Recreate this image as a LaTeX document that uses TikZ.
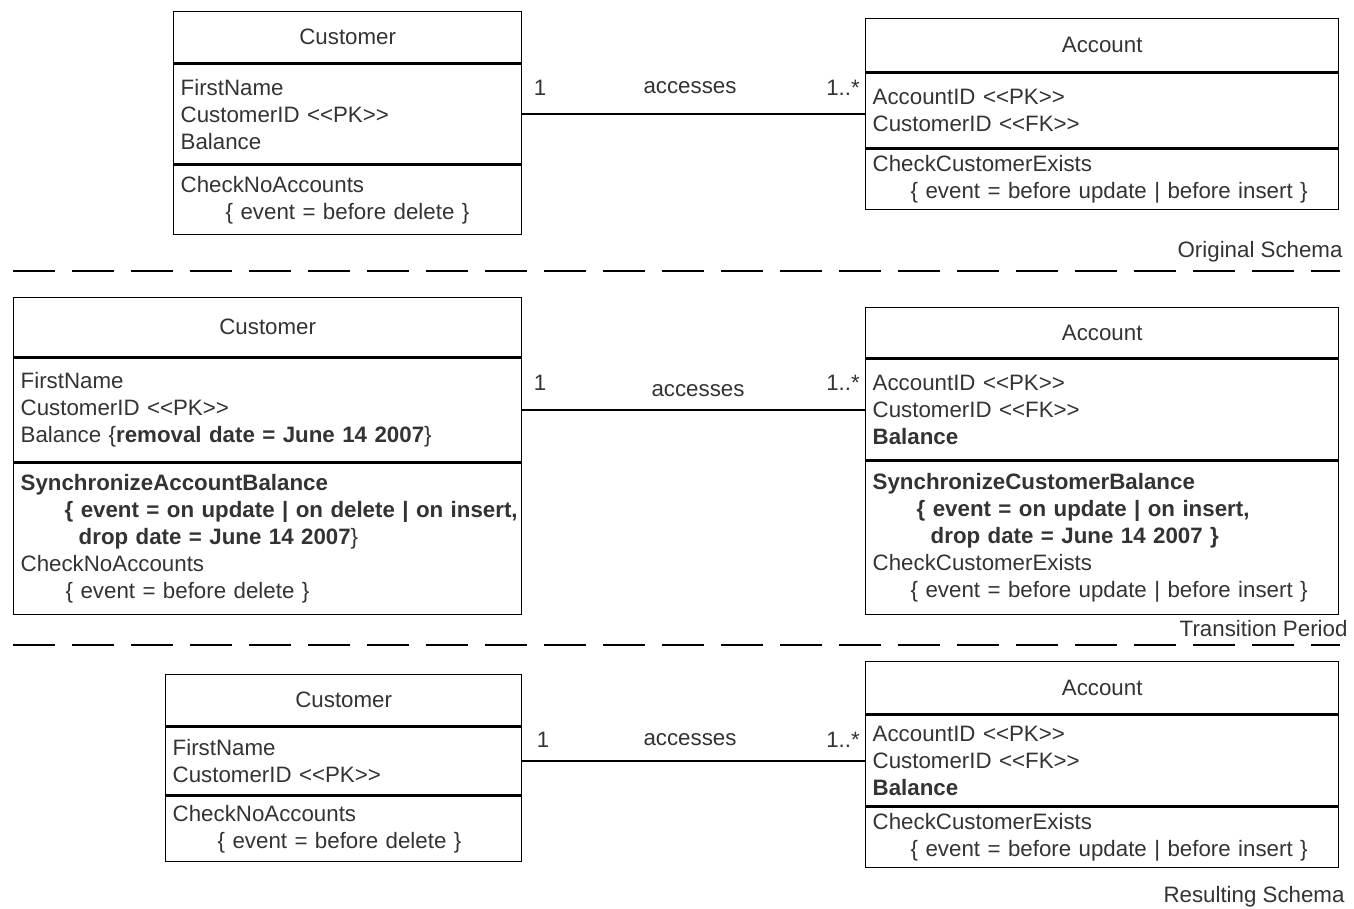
\documentclass[tikz,border=0pt]{standalone}
\usepackage{fontspec}
\setmainfont{Liberation Sans}
\usetikzlibrary{positioning}

\begin{document}
\begin{tikzpicture}[x=1pt,y=-1pt]
    \tikzstyle{cell} = [draw, line width=1.4pt, inner xsep=7pt, inner ysep=0pt,
        anchor=north west, align=left, text=black!80,
        font=\fontsize{22.3}{27}\selectfont]
    \tikzstyle{title} = [cell, align=center]
    \tikzstyle{ann} = [text=black!80, font=\fontsize{22.3}{26}\selectfont]
    \tikzstyle{sep} = [line width=2.2pt, dash pattern=on 42pt off 17pt]
    \useasboundingbox (0,0) rectangle (1354,909);

    % original schema
    \node[title, text width=334pt, minimum height=51pt] (c1n) at (173,11) {Customer};
    \node[cell, text width=334pt, minimum height=100pt, below=0pt of c1n] (c1a)
        {FirstName\\CustomerID <{}<PK>{}>\\Balance};
    \node[cell, text width=334pt, minimum height=69pt, below=0pt of c1a] (c1m)
        {CheckNoAccounts\\\hspace*{45pt}\{ event = before delete \}};

    \node[title, text width=459pt, minimum height=53pt] (a1n) at (865,18) {Account};
    \node[cell, text width=459pt, minimum height=75pt, below=0pt of a1n] (a1a)
        {AccountID <{}<PK>{}>\\CustomerID <{}<FK>{}>};
    \node[cell, text width=459pt, minimum height=60pt, below=0pt of a1a] (a1m)
        {CheckCustomerExists\\\hspace*{38pt}\{ event = before update | before insert \}};

    \draw[line width=1.4pt] (c1a.east) -- (c1a.east -| a1a.west);
    \node[ann] (r1a) at (540,88) {1};
    \node[ann] (r1b) at (690,88) {accesses};
    \node[ann] (r1c) at (843,88) {1..*};
    \node[ann, anchor=east] (t1) at (1346,252) {Original Schema};
    \draw[sep] (13,271) -- (1340,271);

    % transition period
    \node[title, text width=494pt, minimum height=59pt] (c2n) at (13,297) {Customer};
    \node[cell, text width=494pt, minimum height=104pt, below=0pt of c2n] (c2a)
        {FirstName\\CustomerID <{}<PK>{}>\\Balance \{\textbf{removal date = June 14 2007}\}};
    \node[cell, text width=494pt, minimum height=151pt, below=0pt of c2a] (c2m)
        {\textbf{SynchronizeAccountBalance}\\
         \hspace*{44pt}\mbox{\textbf{\{ event = on update | on delete | on insert,}}\\
         \hspace*{58pt}\textbf{drop date = June 14 2007}\}\\
         CheckNoAccounts\\
         \hspace*{45pt}\{ event = before delete \}};

    \node[title, text width=459pt, minimum height=50pt] (a2n) at (865,307) {Account};
    \node[cell, text width=459pt, minimum height=101pt, below=0pt of a2n] (a2a)
        {AccountID <{}<PK>{}>\\CustomerID <{}<FK>{}>\\\textbf{Balance}};
    \node[cell, text width=459pt, minimum height=153pt, below=0pt of a2a] (a2m)
        {\textbf{SynchronizeCustomerBalance}\\
         \hspace*{44pt}\textbf{\{ event = on update | on insert,}\\
         \hspace*{58pt}\textbf{drop date = June 14 2007 \}}\\
         CheckCustomerExists\\
         \hspace*{38pt}\{ event = before update | before insert \}};

    \draw[line width=1.4pt] (c2a.east) -- (c2a.east -| a2a.west);
    \node[ann] (r2a) at (540,383) {1};
    \node[ann] (r2b) at (698,391) {accesses};
    \node[ann] (r2c) at (843,383) {1..*};
    \node[ann, anchor=east] (t2) at (1351,629) {Transition Period};
    \draw[sep] (13,645) -- (1340,645);

    % resulting schema
    \node[title, text width=342pt, minimum height=51pt] (c3n) at (165,674) {Customer};
    \node[cell, text width=342pt, minimum height=68pt, below=0pt of c3n] (c3a)
        {FirstName\\CustomerID <{}<PK>{}>};
    \node[cell, text width=342pt, minimum height=65pt, below=0pt of c3a] (c3m)
        {CheckNoAccounts\\\hspace*{45pt}\{ event = before delete \}};

    \node[title, text width=459pt, minimum height=52pt] (a3n) at (865,661) {Account};
    \node[cell, text width=459pt, minimum height=91pt, below=0pt of a3n] (a3a)
        {AccountID <{}<PK>{}>\\CustomerID <{}<FK>{}>\\\textbf{Balance}};
    \node[cell, text width=459pt, minimum height=60pt, below=0pt of a3a] (a3m)
        {CheckCustomerExists\\\hspace*{38pt}\{ event = before update | before insert \}};

    \draw[line width=1.4pt] (c3a.east) -- (c3a.east -| a3a.west);
    \node[ann] (r3a) at (543,740) {1};
    \node[ann] (r3b) at (690,740) {accesses};
    \node[ann] (r3c) at (843,740) {1..*};
    \node[ann, anchor=east] (t3) at (1348,897) {Resulting Schema};
\end{tikzpicture}
\end{document}
